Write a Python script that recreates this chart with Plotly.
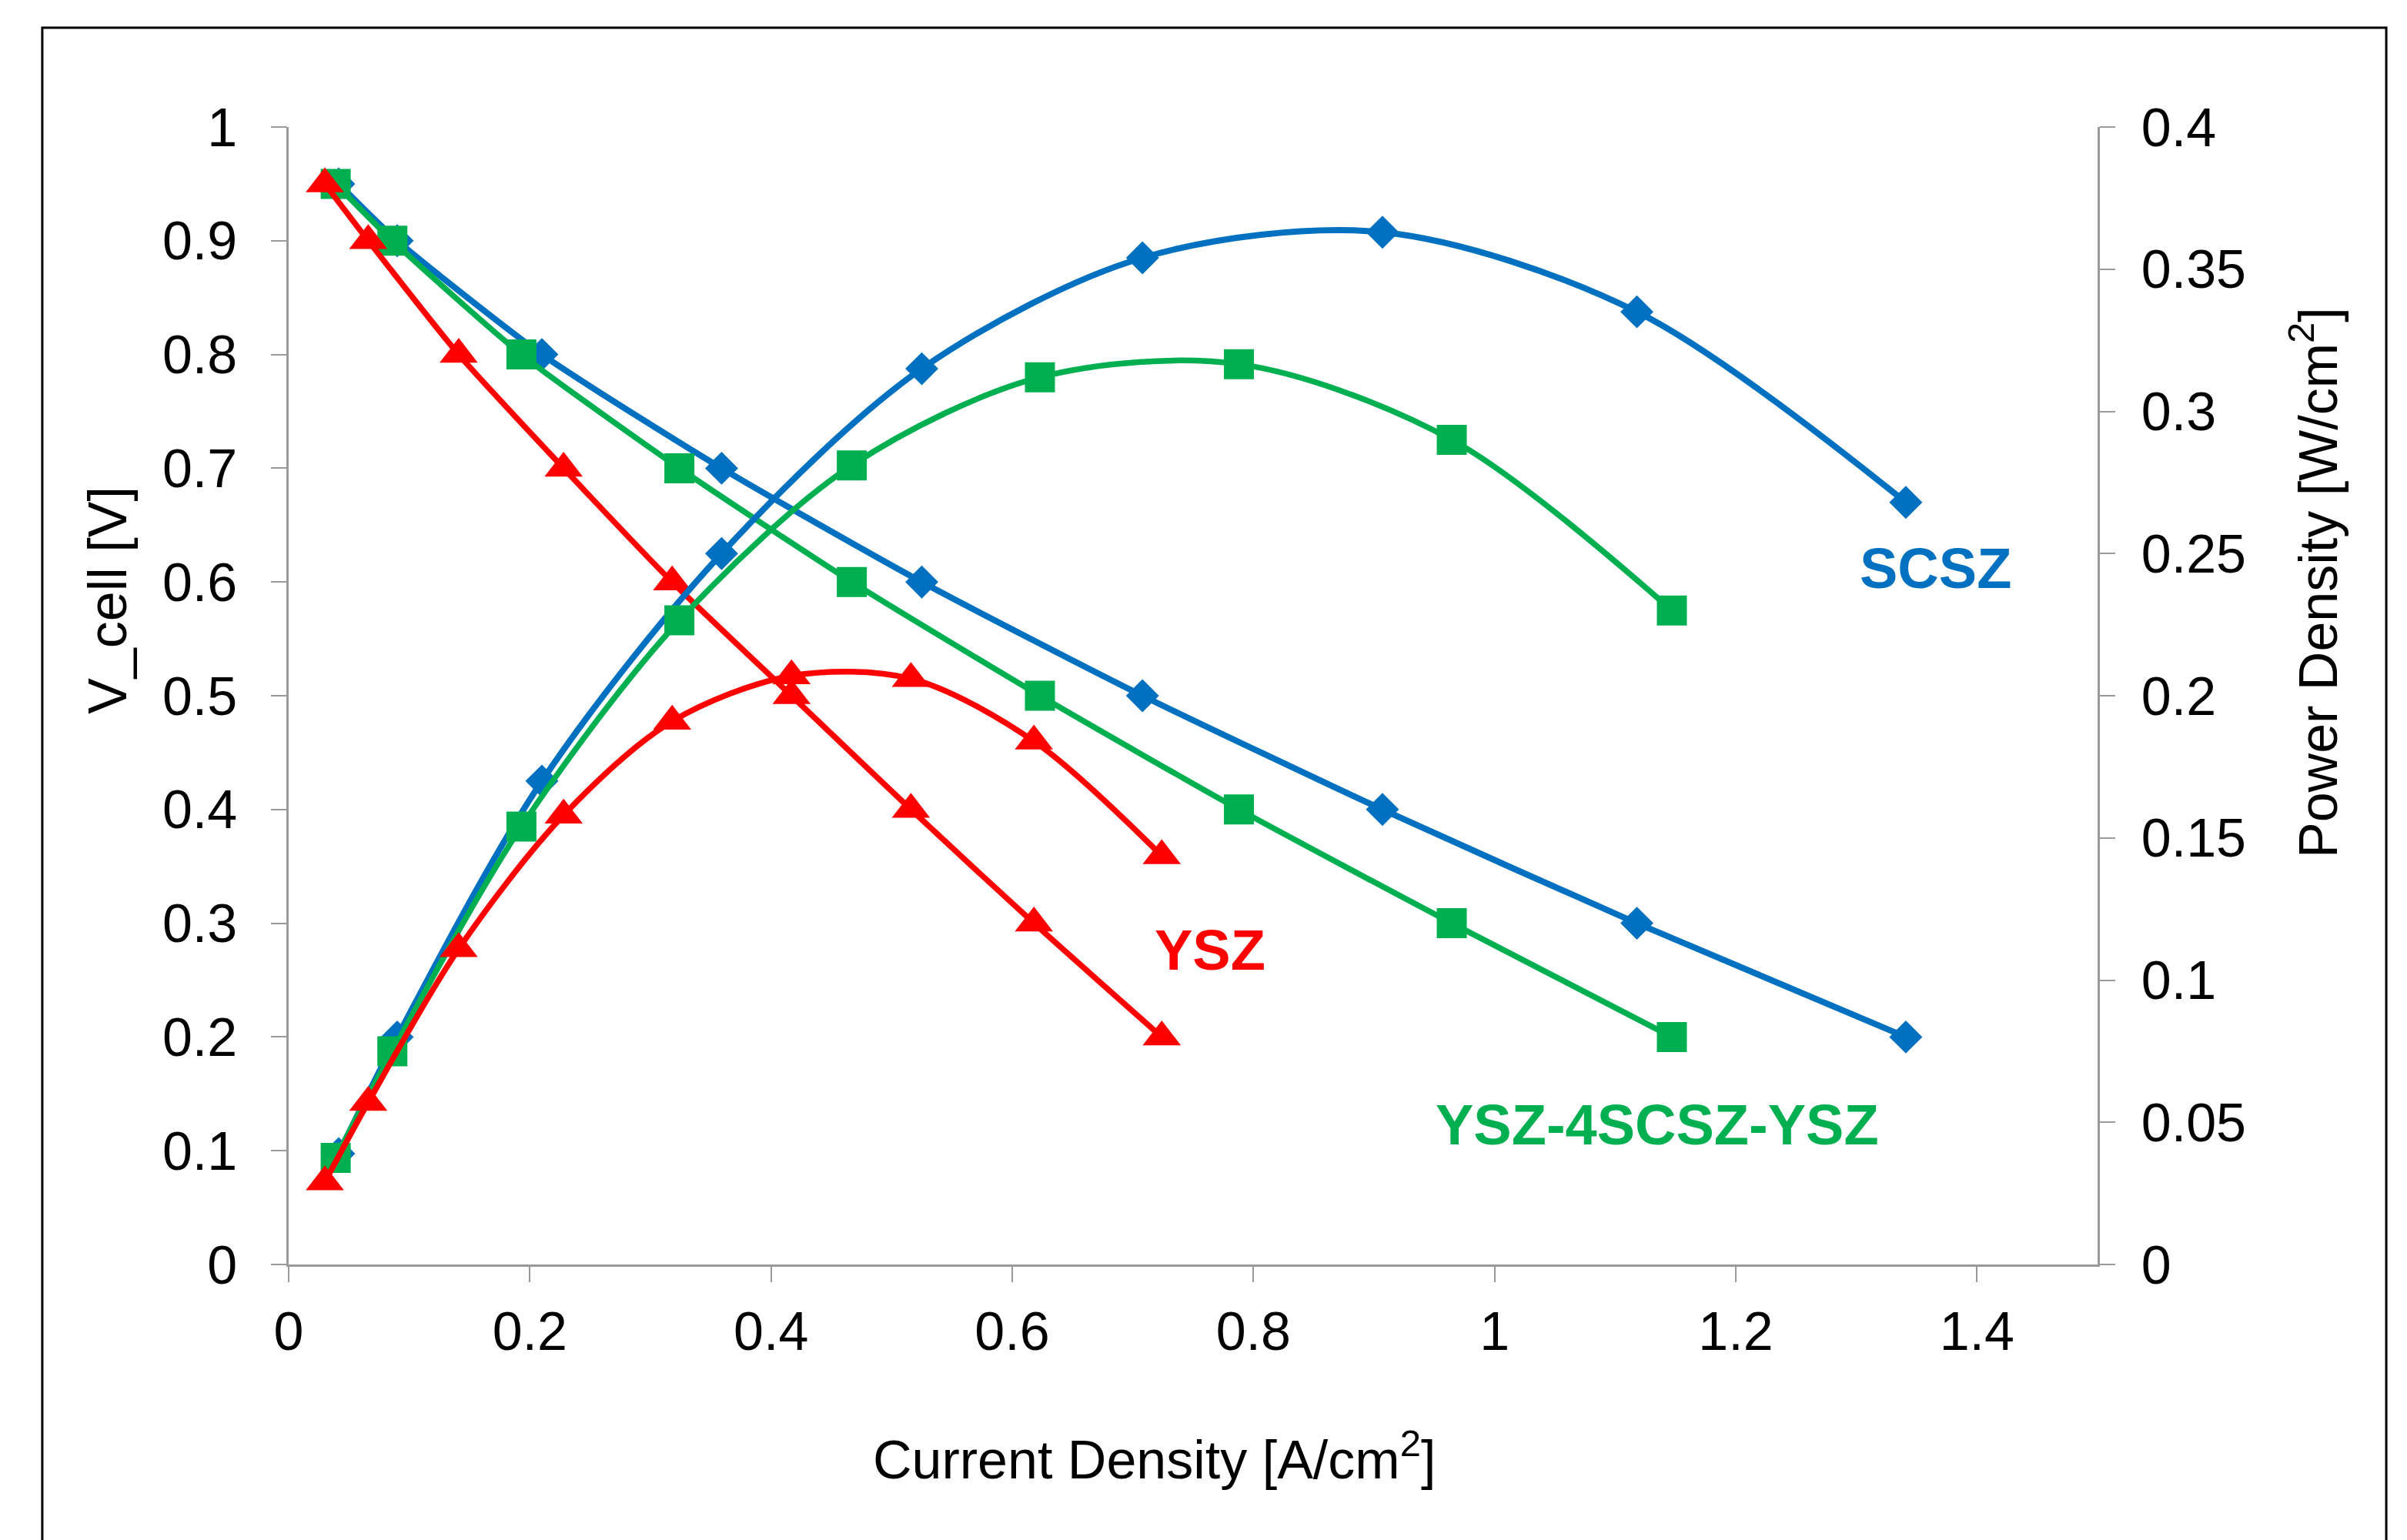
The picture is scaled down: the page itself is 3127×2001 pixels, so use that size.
import plotly.graph_objects as go

# ---- data ----
scsz_i = [0.0415, 0.090, 0.210, 0.359, 0.525, 0.708, 0.907, 1.118, 1.341]
scsz_v = [0.95, 0.90, 0.80, 0.70, 0.60, 0.50, 0.40, 0.30, 0.20]
scsz_p = [0.039, 0.080, 0.170, 0.250, 0.315, 0.354, 0.363, 0.335, 0.268]

mix_i = [0.039, 0.086, 0.193, 0.324, 0.467, 0.623, 0.788, 0.9645, 1.147]
mix_v = [0.95, 0.90, 0.80, 0.70, 0.60, 0.50, 0.40, 0.30, 0.20]
mix_p = [0.0375, 0.075, 0.154, 0.2265, 0.281, 0.312, 0.3166, 0.290, 0.230]

ysz_i = [0.030, 0.066, 0.141, 0.228, 0.318, 0.417, 0.516, 0.618, 0.724]
ysz_v = [0.95, 0.90, 0.80, 0.70, 0.60, 0.50, 0.40, 0.30, 0.20]
ysz_p = [0.029, 0.057, 0.111, 0.158, 0.191, 0.207, 0.206, 0.184, 0.1437]

series_names = ["SCSZ", "YSZ-4SCSZ-YSZ", "YSZ"]
x_title = "Current Density [A/cm<sup>2</sup>]"
y_title = "V_cell [V]"
y2_title = "Power Density [W/cm<sup>2</sup>]"

BLUE = "#0070C0"
GREEN = "#00B050"
RED = "#FF0000"
FONT = "Liberation Sans, Arial, sans-serif"

fig = go.Figure()

def add_series(i, v, p, color, symbol, msize, lw):
    fig.add_trace(go.Scatter(x=i, y=v, mode="lines+markers",
                             line=dict(color=color, width=lw, shape="spline", smoothing=0.6),
                             marker=dict(color=color, symbol=symbol, size=msize),
                             showlegend=False))
    fig.add_trace(go.Scatter(x=i, y=p, mode="lines+markers", yaxis="y2",
                             line=dict(color=color, width=lw, shape="spline", smoothing=0.9),
                             marker=dict(color=color, symbol=symbol, size=msize),
                             showlegend=False))

add_series(scsz_i, scsz_v, scsz_p, BLUE, "diamond", 33, 8)
add_series(mix_i, mix_v, mix_p, GREEN, "square", 39, 7.5)
add_series(ysz_i, ysz_v, ysz_p, RED, "triangle-up", 43, 7.5)

axis_common = dict(showline=True, linecolor="#9A9A9A", linewidth=2.5,
                   ticks="outside", ticklen=20, tickwidth=2, tickcolor="#9A9A9A",
                   showgrid=False, zeroline=False,
                   tickfont=dict(family=FONT, size=70, color="black"))

fig.update_layout(
    width=3127, height=2001,
    margin=dict(l=367, r=410, t=157, b=366),
    paper_bgcolor="white", plot_bgcolor="white",
    xaxis=dict(range=[0, 1.5], tick0=0, dtick=0.2, ticklabelstandoff=4, **axis_common),
    yaxis=dict(range=[0, 1], tick0=0, dtick=0.1, ticklabelstandoff=30, **axis_common),
    yaxis2=dict(range=[0, 0.4], tick0=0, dtick=0.05, overlaying="y", side="right",
                anchor="x", ticklabelstandoff=20, **axis_common),
    annotations=[
        dict(text=x_title, xref="paper", yref="paper", x=0.4787, y=-0.1685,
             showarrow=False, font=dict(family=FONT, size=70, color="black"),
             xanchor="center", yanchor="middle"),
        dict(text=y_title, xref="paper", yref="paper", x=-0.1, y=0.584, textangle=-90,
             showarrow=False, font=dict(family=FONT, size=70, color="black"),
             xanchor="center", yanchor="middle"),
        dict(text=y2_title, xref="paper", yref="paper", x=1.1196, y=0.5995, textangle=-90,
             showarrow=False, font=dict(family=FONT, size=70, color="black"),
             xanchor="center", yanchor="middle"),
        dict(text="<b>" + series_names[0] + "</b>", x=1.3657, y=0.6123, xref="x", yref="y",
             showarrow=False, font=dict(family=FONT, size=74, color=BLUE)),
        dict(text="<b>" + series_names[1] + "</b>", x=1.135, y=0.1225, xref="x", yref="y",
             showarrow=False, font=dict(family=FONT, size=74, color=GREEN)),
        dict(text="<b>" + series_names[2] + "</b>", x=0.764, y=0.2767, xref="x", yref="y",
             showarrow=False, font=dict(family=FONT, size=74, color=RED)),
    ],
    shapes=[
        dict(type="rect", xref="paper", yref="paper", x0=-0.1362, x1=1.1596,
             y0=-0.26, y1=1.0873, line=dict(color="black", width=3), layer="below"),
    ],
)

fig.write_html("out.html")
